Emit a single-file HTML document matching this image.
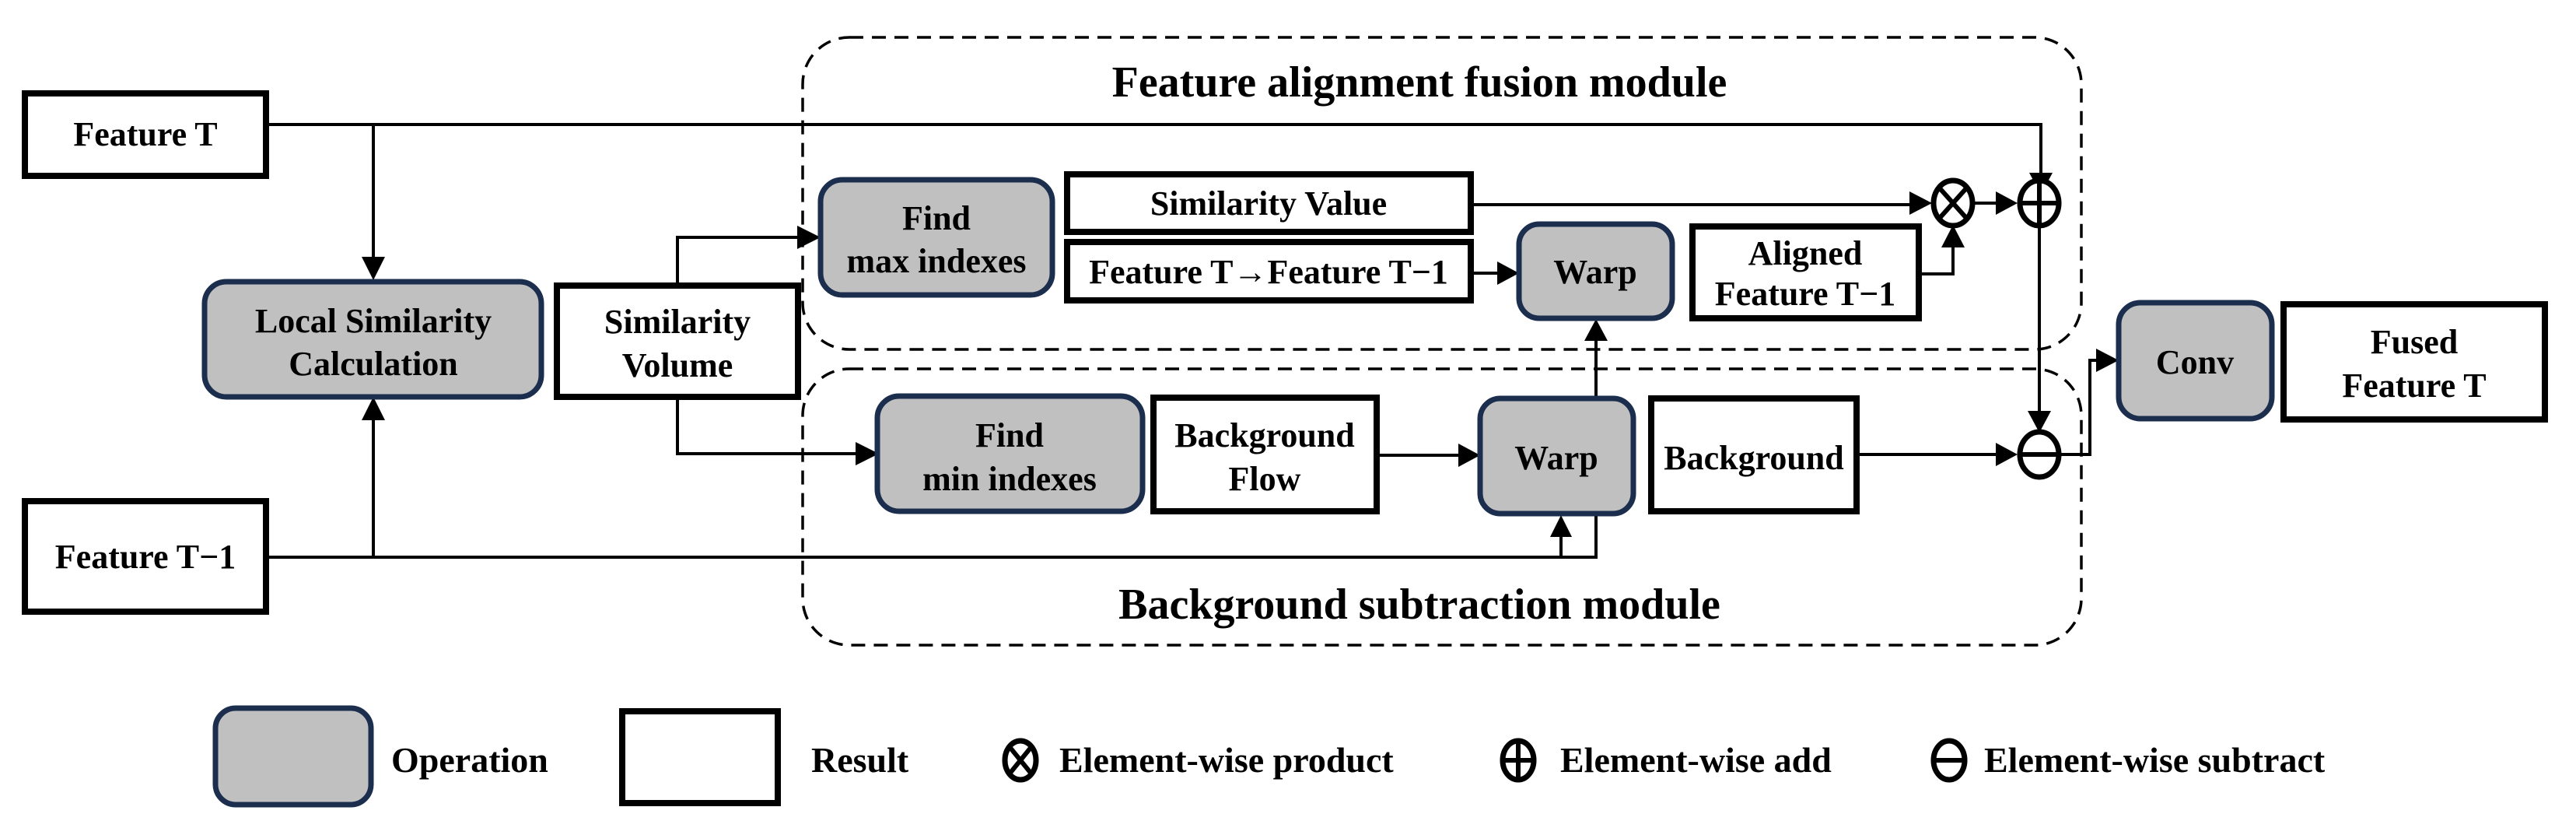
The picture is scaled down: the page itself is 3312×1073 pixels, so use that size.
<!DOCTYPE html>
<html><head><meta charset="utf-8"><style>
html,body{margin:0;padding:0;background:#fff}
svg{display:block}
svg text{font-family:"Liberation Serif","Times New Roman","Noto Serif CJK SC",serif;font-weight:bold;fill:#000}
</style></head><body>
<svg width="3312" height="1073" viewBox="0 0 3312 1073" xmlns="http://www.w3.org/2000/svg">
<style>
.r{fill:#fff;stroke:#000;stroke-width:8}
.o{fill:#c0c0c0;stroke:#1c2e4e;stroke-width:7}
.l{fill:none;stroke:#000;stroke-width:4}
.d{fill:none;stroke:#000;stroke-width:3.5;stroke-dasharray:18 11}
.t{font-size:44px;text-anchor:middle}
.m{font-size:56px;text-anchor:middle}
.g{font-size:46px}
</style>
<rect class="d" x="1032" y="48" width="1644" height="401" rx="60"/>
<rect class="d" x="1032" y="474" width="1644" height="355" rx="60"/>
<text class="m" x="1825" y="124">Feature alignment fusion module</text>
<text class="m" x="1825" y="795">Background subtraction module</text>

<g class="l">
<path d="M342,160 H2624 V222"/>
<path d="M480,160 V330"/>
<path d="M342,716 H2052 V660"/>
<path d="M480,716 V540"/>
<path d="M2007,716 V690"/>
<path d="M871,365 V305 H1025"/>
<path d="M871,510 V583 H1100"/>
<path d="M1891,263 H2455"/>
<path d="M1891,351 H1925"/>
<path d="M1770,585 H1875"/>
<path d="M2052,512 V438"/>
<path d="M2467,352 H2511 V318"/>
<path d="M2538,261 H2566"/>
<path d="M2622,288 V528"/>
<path d="M2387,584 H2566"/>
<path d="M2650,584 H2687 V463 H2695"/>
</g>
<g fill="#000">
<path d="M465,330 L495,330 L480,360 z"/>
<path d="M465,540 L495,540 L480,510 z"/>
<path d="M1025,290 L1055,305 L1025,320 z"/>
<path d="M1100,568 L1130,583 L1100,598 z"/>
<path d="M2455,246 L2484,261 L2455,276 z"/>
<path d="M1925,336 L1953,351 L1925,366 z"/>
<path d="M1875,570 L1903,585 L1875,600 z"/>
<path d="M2037,438 L2067,438 L2052,410 z"/>
<path d="M1993,690 L2021,690 L2007,662 z"/>
<path d="M2496,318 L2526,318 L2511,289 z"/>
<path d="M2566,246 L2594,261 L2566,276 z"/>
<path d="M2609,222 L2639,222 L2624,250 z"/>
<path d="M2607,528 L2637,528 L2622,556 z"/>
<path d="M2566,569 L2594,584 L2566,599 z"/>
<path d="M2695,448 L2724,463 L2695,478 z"/>
</g>
<g fill="#fff" stroke="#000" stroke-width="7">
<ellipse cx="2511" cy="261" rx="25" ry="29"/>
<ellipse cx="2622" cy="261" rx="25" ry="29"/>
<ellipse cx="2622" cy="584" rx="25" ry="29"/>
</g>
<g stroke="#000" stroke-width="6">
<path d="M2494,242 L2528,280 M2528,242 L2494,280"/>
<path d="M2597,261 H2647 M2622,232 V290"/>
<path d="M2597,584 H2647"/>
</g>

<rect class="r" x="32" y="120" width="310" height="106"/>
<text class="t" x="187" y="187">Feature T</text>
<rect class="r" x="32" y="644" width="310" height="142"/>
<text class="t" x="187" y="730">Feature T−1</text>
<rect class="o" x="263" y="362" width="433" height="148" rx="28"/>
<text class="t" x="480" y="427">Local Similarity</text>
<text class="t" x="480" y="482">Calculation</text>
<rect class="r" x="716" y="367" width="310" height="143"/>
<text class="t" x="871" y="428">Similarity</text>
<text class="t" x="871" y="484">Volume</text>
<rect class="o" x="1055" y="231" width="298" height="148" rx="28"/>
<text class="t" x="1204" y="295">Find</text>
<text class="t" x="1204" y="350">max indexes</text>
<rect class="r" x="1372" y="224" width="519" height="74"/>
<text class="t" x="1631" y="276">Similarity Value</text>
<rect class="r" x="1372" y="311" width="519" height="75"/>
<text class="t" x="1631" y="364">Feature T→Feature T−1</text>
<rect class="o" x="1953" y="288" width="197" height="121" rx="26"/>
<text class="t" x="2051" y="364">Warp</text>
<rect class="r" x="2176" y="291" width="291" height="118"/>
<text class="t" x="2321" y="340">Aligned</text>
<text class="t" x="2321" y="392">Feature T−1</text>
<rect class="o" x="1128" y="509" width="341" height="148" rx="28"/>
<text class="t" x="1298" y="574">Find</text>
<text class="t" x="1298" y="630">min indexes</text>
<rect class="r" x="1483" y="511" width="287" height="146"/>
<text class="t" x="1626" y="574">Background</text>
<text class="t" x="1626" y="630">Flow</text>
<rect class="o" x="1903" y="512" width="197" height="148" rx="26"/>
<text class="t" x="2001" y="603">Warp</text>
<rect class="r" x="2123" y="512" width="264" height="145"/>
<text class="t" x="2255" y="603">Background</text>
<rect class="o" x="2724" y="389" width="197" height="149" rx="28"/>
<text class="t" x="2822" y="480">Conv</text>
<rect class="r" x="2936" y="391" width="336" height="148"/>
<text class="t" x="3104" y="454">Fused</text>
<text class="t" x="3104" y="510">Feature T</text>

<rect class="o" x="277" y="910" width="200" height="124" rx="26"/>
<text class="g" x="503" y="992">Operation</text>
<rect class="r" x="800" y="914" width="200" height="118"/>
<text class="g" x="1043" y="992">Result</text>
<g fill="#fff" stroke="#000" stroke-width="7">
<ellipse cx="1312" cy="977" rx="20" ry="25"/>
<ellipse cx="1952" cy="977" rx="20" ry="25"/>
<ellipse cx="2506" cy="977" rx="20" ry="25"/>
</g>
<g stroke="#000" stroke-width="6">
<path d="M1299,961 L1325,993 M1325,961 L1299,993"/>
<path d="M1932,977 H1972 M1952,952 V1002"/>
<path d="M2486,977 H2526"/>
</g>
<text class="g" x="1362" y="992">Element-wise product</text>
<text class="g" x="2006" y="992">Element-wise add</text>
<text class="g" x="2551" y="992">Element-wise subtract</text>
</svg>
</body></html>
